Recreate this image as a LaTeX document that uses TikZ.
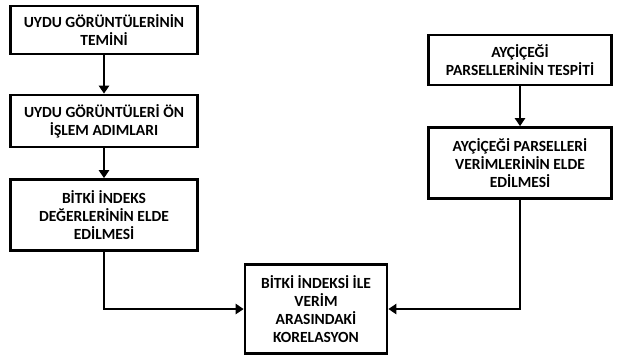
\documentclass[tikz,border=0pt]{standalone}
\usepackage{fontspec}
\setmainfont{Carlito}
\usetikzlibrary{arrows.meta}
\tikzset{
    kutu/.style={draw=black, line width=2.6pt, fill=white, align=center,
        inner sep=2pt, font=\fontsize{15.5}{18}\selectfont\bfseries},
    ok/.style={line width=2.4pt, -{Triangle[length=8pt, width=10pt]}}
}
\begin{document}
\begin{tikzpicture}[x=1pt, y=-1pt]
        \useasboundingbox (0,0) rectangle (618,356);
        % sol kolon
        \node[kutu, minimum width=187pt, minimum height=48pt] (temin) at (104,30)
        {UYDU GÖRÜNTÜLERİNİN\\TEMİNİ};
        \node[kutu, minimum width=187pt, minimum height=52pt] (onislem) at (104,121)
        {UYDU GÖRÜNTÜLERİ ÖN\\İŞLEM ADIMLARI};
        \node[kutu, minimum width=187pt, minimum height=71pt] (indeks) at (104,215)
        {BİTKİ İNDEKS\\DEĞERLERİNİN ELDE\\EDİLMESİ};
        % sag kolon
        \node[kutu, minimum width=183pt, minimum height=50pt] (tespit) at (520,60)
        {AYÇİÇEĞİ\\PARSELLERİNİN TESPİTİ};
        \node[kutu, minimum width=183pt, minimum height=71pt] (verim) at (520,163)
        {AYÇİÇEĞİ PARSELLERİ\\VERİMLERİNİN ELDE\\EDİLMESİ};
        % sonuc
        \node[kutu, minimum width=142pt, minimum height=89pt] (korelasyon) at (316,309)
        {BİTKİ İNDEKSİ İLE\\VERİM\\ARASINDAKİ\\KORELASYON};
        \draw[ok] (temin) -- (onislem);
        \draw[ok] (onislem) -- (indeks);
        \draw[ok] (tespit) -- (verim);
        \draw[ok] (indeks.south) |- (korelasyon.west);
        \draw[ok] (verim.south) |- (korelasyon.east);
    \end{tikzpicture}
\end{document}
